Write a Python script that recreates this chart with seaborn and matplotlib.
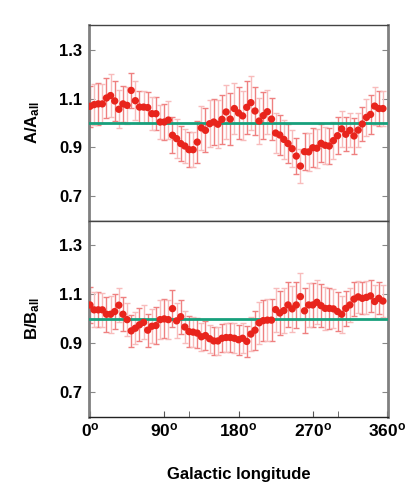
import numpy as np
import seaborn as sns
import matplotlib
matplotlib.use("Agg")
import matplotlib.pyplot as plt

# galactic longitude bins (deg)
lon = np.arange(0, 360, 5)

ratio_a = [1.068, 1.075, 1.078, 1.078, 1.102, 1.112, 1.090, 1.056, 1.078, 1.072,
           1.133, 1.091, 1.065, 1.065, 1.063, 1.038, 1.038, 1.004, 1.004, 1.012,
           0.950, 0.936, 0.916, 0.906, 0.891, 0.891, 0.922, 0.980, 0.970, 0.997,
           1.004, 0.995, 1.015, 1.045, 1.016, 1.059, 1.041, 1.029, 1.064, 1.083,
           1.049, 1.008, 1.030, 1.046, 1.016, 0.959, 0.951, 0.933, 0.916, 0.895,
           0.865, 0.824, 0.883, 0.882, 0.899, 0.897, 0.917, 0.909, 0.906, 0.928,
           0.948, 0.976, 0.954, 0.970, 0.947, 0.971, 0.996, 1.023, 1.035, 1.069,
           1.059, 1.059]
err_a = [0.085, 0.083, 0.087, 0.080, 0.083, 0.087, 0.080, 0.077, 0.074, 0.075,
         0.071, 0.079, 0.066, 0.066, 0.062, 0.068, 0.068, 0.071, 0.073, 0.079,
         0.074, 0.079, 0.070, 0.071, 0.072, 0.072, 0.085, 0.090, 0.090, 0.095,
         0.095, 0.098, 0.100, 0.110, 0.107, 0.103, 0.105, 0.100, 0.108, 0.110,
         0.100, 0.095, 0.095, 0.090, 0.085, 0.080, 0.080, 0.078, 0.078, 0.075,
         0.072, 0.068, 0.075, 0.078, 0.080, 0.080, 0.078, 0.075, 0.075, 0.075,
         0.075, 0.072, 0.070, 0.070, 0.072, 0.070, 0.070, 0.075, 0.080, 0.078,
         0.070, 0.070]

ratio_b = [1.057, 1.037, 1.037, 1.037, 1.019, 1.019, 1.030, 1.056, 1.019, 0.997,
           0.951, 0.962, 0.976, 0.986, 0.954, 0.970, 0.973, 0.997, 1.000, 0.997,
           1.042, 0.992, 1.009, 0.967, 0.948, 0.946, 0.942, 0.927, 0.932, 0.919,
           0.910, 0.910, 0.921, 0.924, 0.924, 0.921, 0.915, 0.921, 0.908, 0.938,
           0.954, 0.984, 0.993, 0.995, 0.995, 1.038, 1.024, 1.034, 1.057, 1.041,
           1.057, 1.091, 1.033, 1.057, 1.057, 1.068, 1.054, 1.043, 1.043, 1.041,
           1.030, 1.019, 1.043, 1.057, 1.081, 1.090, 1.084, 1.088, 1.094, 1.071,
           1.084, 1.073]
err_b = [0.075, 0.072, 0.072, 0.070, 0.072, 0.075, 0.072, 0.070, 0.070, 0.068,
         0.065, 0.065, 0.068, 0.070, 0.068, 0.070, 0.075, 0.080, 0.080, 0.080,
         0.076, 0.072, 0.070, 0.065, 0.062, 0.060, 0.060, 0.058, 0.058, 0.058,
         0.058, 0.058, 0.058, 0.060, 0.060, 0.062, 0.062, 0.062, 0.062, 0.070,
         0.080, 0.085, 0.085, 0.085, 0.085, 0.090, 0.090, 0.092, 0.092, 0.095,
         0.095, 0.095, 0.092, 0.090, 0.090, 0.090, 0.088, 0.088, 0.085, 0.080,
         0.080, 0.075, 0.070, 0.070, 0.068, 0.066, 0.066, 0.066, 0.066, 0.066,
         0.066, 0.066]

ylabels = [r"A/A$_{\mathbf{all}}$", r"B/B$_{\mathbf{all}}$"]
xticks = [0, 90, 180, 270, 360]
xticklabels = [r"%d$^{\mathbf{o}}$" % t for t in xticks]

sns.set_style("ticks")
plt.rcParams["font.family"] = ["Liberation Sans", "DejaVu Sans"]
plt.rcParams["font.weight"] = "bold"
plt.rcParams["text.color"] = "black"
plt.rcParams["axes.labelcolor"] = "black"
plt.rcParams["xtick.labelcolor"] = "black"
plt.rcParams["ytick.labelcolor"] = "black"
plt.rcParams["mathtext.fontset"] = "custom"
plt.rcParams["mathtext.bf"] = "Liberation Sans:bold"
plt.rcParams["mathtext.rm"] = "Liberation Sans:bold"
plt.rcParams["mathtext.default"] = "bf"

fig, axes = plt.subplots(2, 1, figsize=(4.07, 4.91), dpi=100, sharex=True)
fig.subplots_adjust(left=0.219, right=0.953, top=0.949, bottom=0.151, hspace=0)

red = "#e8241c"
for ax, vals, errs, lab in zip(axes, [ratio_a, ratio_b], [err_a, err_b], ylabels):
    vals = np.array(vals)
    errs = np.array(errs)
    # alternating error bar shades, like the original
    for k, col in enumerate(["#ef8080", "#f8bcbc"]):
        ax.errorbar(lon[k::2], vals[k::2], yerr=errs[k::2], fmt="none",
                    ecolor=col, elinewidth=1.0, capsize=2.3, capthick=1.0, zorder=2)
    ax.axhline(1.0, color="#17a07c", lw=2.0, zorder=3)
    sns.scatterplot(x=lon, y=vals, ax=ax, color=red, s=28, edgecolor="none",
                    zorder=4, legend=False)
    ax.set_xlim(-1, 361)
    ax.set_ylim(0.6, 1.4)
    ax.set_yticks([0.7, 0.9, 1.1, 1.3])
    ax.set_ylabel(lab, fontsize=12, fontweight="bold", labelpad=12, color="black")
    ax.tick_params(axis="y", direction="in", length=4, color="#888888",
                   right=True, labelsize=12, pad=5, labelcolor="black")
    ax.tick_params(axis="x", direction="in", length=4, color="#555555", top=False,
                   labelcolor="black")
    for side in ["left", "right"]:
        ax.spines[side].set_color("#808080")
        ax.spines[side].set_linewidth(2.0)
    ax.spines["top"].set_color("#444444")
    ax.spines["top"].set_linewidth(1.0)
    ax.spines["bottom"].set_color("#222222")
    ax.spines["bottom"].set_linewidth(1.0)

axes[0].tick_params(axis="x", length=0)
bot = axes[1]
bot.set_xticks(xticks)
bot.set_xticks([120, 300], minor=True)
bot.tick_params(axis="x", which="minor", direction="in", length=4, color="#555555")
bot.set_xticklabels(xticklabels, fontsize=12.5)
bot.set_xlabel("Galactic longitude", fontsize=12, fontweight="bold", labelpad=20,
               color="black")

fig.savefig("out.png", dpi=100)
